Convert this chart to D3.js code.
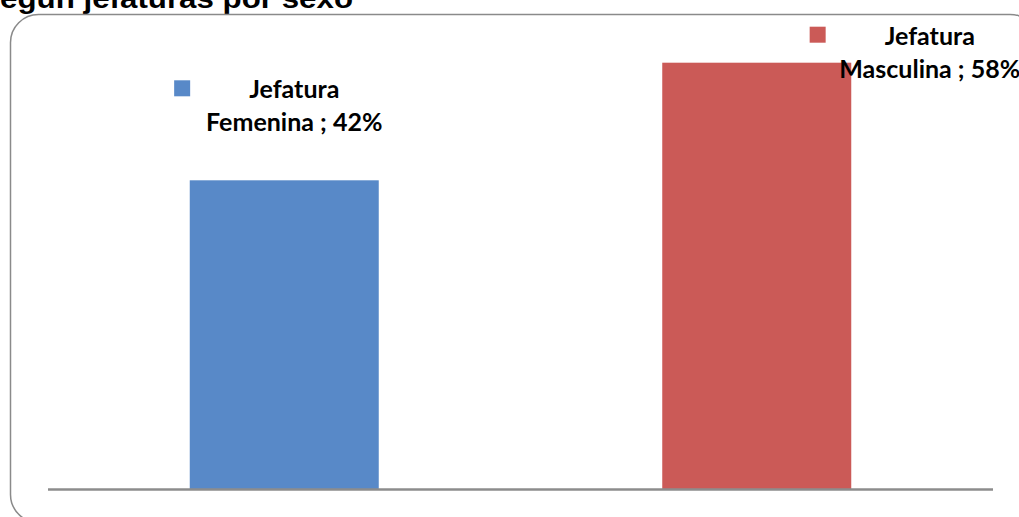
<!DOCTYPE html>
<html>
<head>
<meta charset="utf-8">
<script src="https://cdn.jsdelivr.net/npm/d3@7/dist/d3.min.js"></script>
<style>
  html, body { margin: 0; padding: 0; background: #fff; overflow: hidden; }
  svg { display: block; }
</style>
</head>
<body>
<svg id="chart" width="1019" height="517"></svg>
<script>
// Household headship by sex
const categories = ["Jefatura Femenina", "Jefatura Masculina"];
const labelLines = [["Jefatura", "Femenina ; 42%"], ["Jefatura", "Masculina ; 58%"]];
const shares = [0.42, 0.58];
const colors = ["#5889c8", "#cb5a57"];
const titleText = "Hogares según jefaturas por sexo";
const titleTail = "egún jefaturas por sexo";

const W = 1019, H = 517;
const svg = d3.select("#chart");

// Title (runs off the top-left of the page); stretched horizontally
const titleFont = { family: "Liberation Sans, Arial, sans-serif", size: 27 };
const probe = svg.append("text")
  .attr("font-family", titleFont.family).attr("font-weight", "bold")
  .attr("font-size", titleFont.size).text(titleTail);
const tailW = probe.node().getComputedTextLength();
probe.remove();
const titleEnd = 353;
const sx = titleEnd / tailW;
svg.append("text")
  .attr("transform", `translate(${titleEnd},8) scale(${sx},1)`)
  .attr("text-anchor", "end")
  .attr("font-family", titleFont.family)
  .attr("font-weight", "bold")
  .attr("font-size", titleFont.size)
  .attr("fill", "#000")
  .text(titleText);

// Chart area frame with rounded corners
svg.append("rect")
  .attr("x", 10.5).attr("y", 14.5)
  .attr("width", 1027.5).attr("height", 508)
  .attr("rx", 28).attr("ry", 28)
  .attr("fill", "none")
  .attr("stroke", "#8a8a8a")
  .attr("stroke-width", 1.5);

const plot = { left: 48, right: 993, baseline: 489 };

const x = d3.scaleBand()
  .domain(categories)
  .range([plot.left, plot.right])
  .paddingInner(0.6)
  .paddingOuter(0.3);

const y = d3.scaleLinear()
  .domain([0, 0.6])
  .range([plot.baseline, 48]);

// Bars
svg.selectAll("rect.bar")
  .data(categories)
  .join("rect")
  .attr("class", "bar")
  .attr("x", d => x(d))
  .attr("width", x.bandwidth())
  .attr("y", (d, i) => y(shares[i]))
  .attr("height", (d, i) => y(0) - y(shares[i]))
  .attr("fill", (d, i) => colors[i]);

// Category axis line
svg.append("line")
  .attr("x1", plot.left).attr("x2", plot.right)
  .attr("y1", plot.baseline + 0.5).attr("y2", plot.baseline + 0.5)
  .attr("stroke", "#8c8c8c")
  .attr("stroke-width", 2.5);

// Data labels with legend key, offset from each bar's top centre
const labelOffsets = [{ dx: 10, dy: -82 }, { dx: 173, dy: -18 }];
const lineGap = 33;

categories.forEach((c, i) => {
  const cx = x(c) + x.bandwidth() / 2 + labelOffsets[i].dx;
  const by = y(shares[i]) + labelOffsets[i].dy;
  const g = svg.append("g");
  const t = g.append("text")
    .attr("font-family", "Lato, 'Open Sans', sans-serif")
    .attr("font-weight", "bold")
    .attr("font-size", 25)
    .attr("fill", "#000")
    .attr("text-anchor", "middle");
  labelLines[i].forEach((line, k) => {
    t.append("tspan").attr("x", cx).attr("y", by + k * lineGap).text(line);
  });
  const firstW = t.select("tspan").node().getComputedTextLength();
  g.append("rect")
    .attr("x", cx - firstW / 2 - 75)
    .attr("y", by - 18)
    .attr("width", 16).attr("height", 16)
    .attr("fill", colors[i]);
});
</script>
</body>
</html>
